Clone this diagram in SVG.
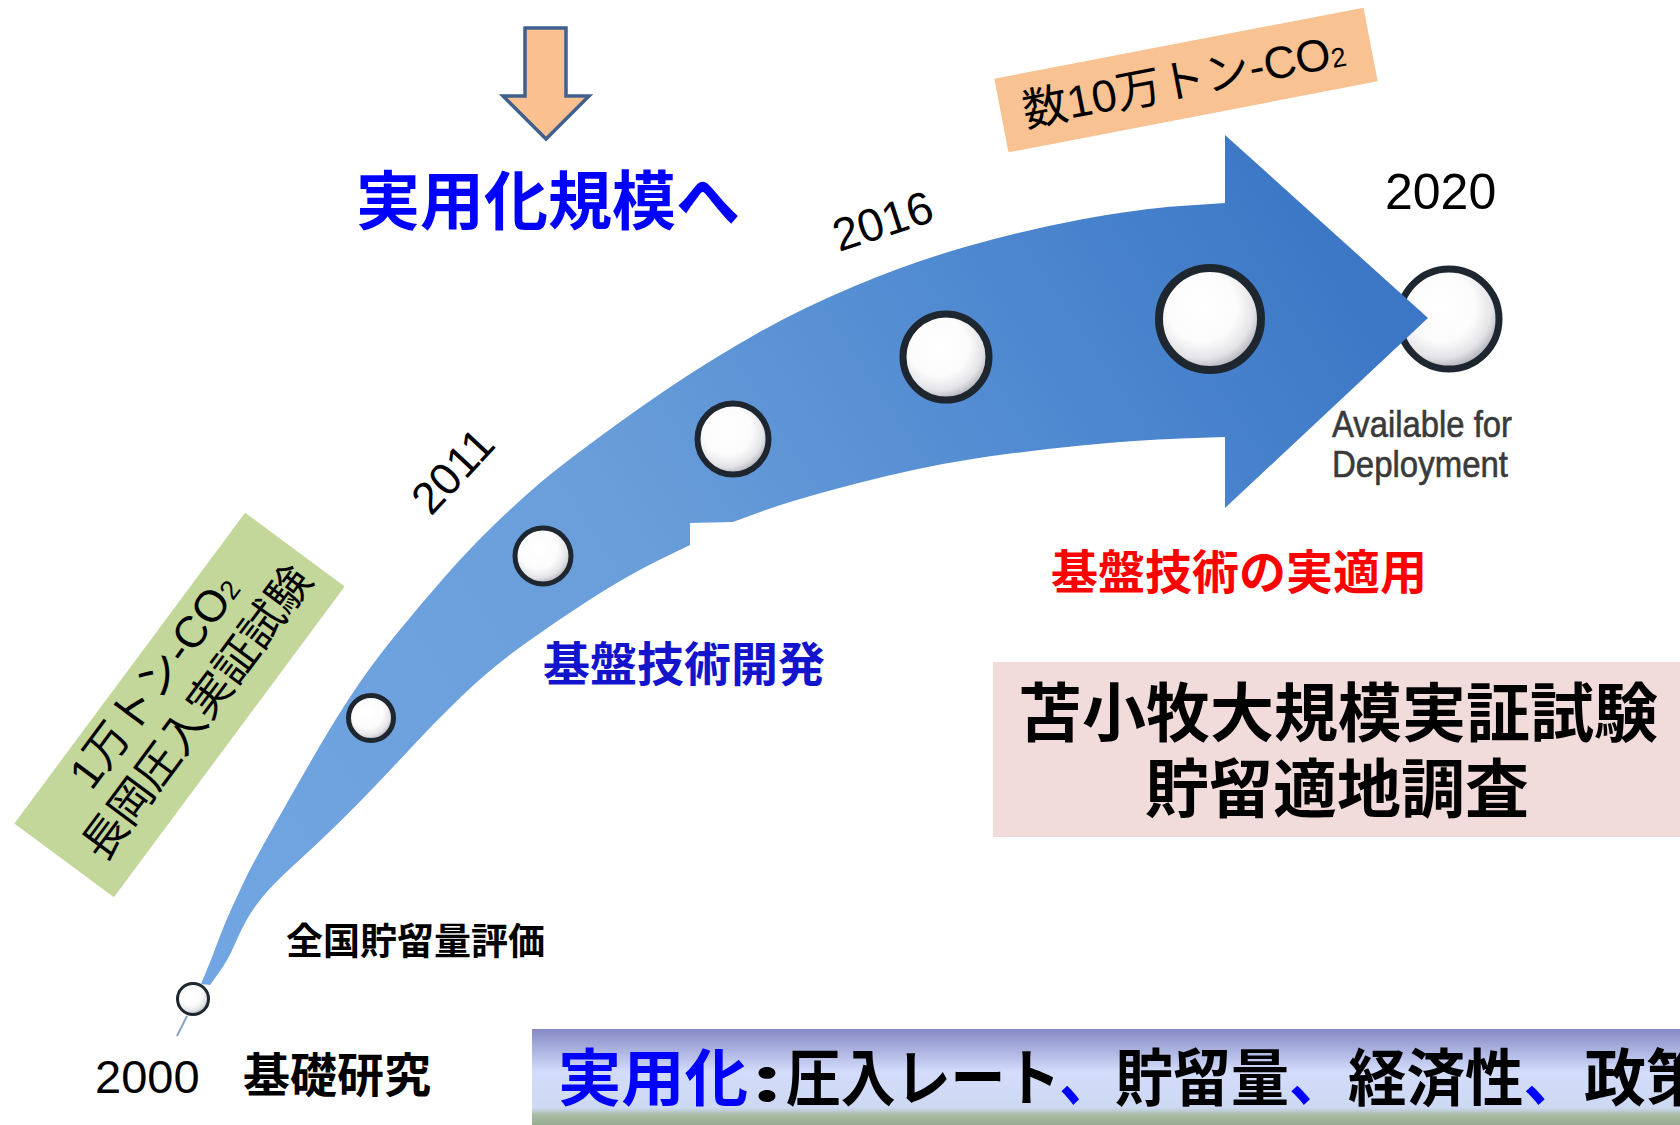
<svg xmlns="http://www.w3.org/2000/svg" width="1680" height="1125" viewBox="0 0 1680 1125">
  <style>
    .jp { font-family: 'Noto Sans CJK JP', sans-serif; font-weight: 700; }
    .jpr { font-family: 'Liberation Sans', 'Noto Sans CJK JP', sans-serif; font-weight: 400; }
    .yr { font-family: 'Liberation Sans', sans-serif; font-size: 45px; fill: #000; }
    .blue { fill: #0000FF; }
    .navy { fill: #1414CC; }
    .red { fill: #FF0000; }
    .blk { fill: #000; }
    .ball { fill: url(#ballShade); stroke: #1e2730; }
    .avail { font-family: 'Liberation Sans', sans-serif; font-size: 36px; fill: #3a3a3a; stroke: #3a3a3a; stroke-width: 0.6; }
    .bn { font-family: 'Noto Sans CJK JP', sans-serif; font-weight: 700; font-size: 62px; }
  </style>
  <defs>
    <linearGradient id="bandFill" gradientUnits="userSpaceOnUse" x1="200" y1="1000" x2="1350" y2="250">
      <stop offset="0" stop-color="#72A6E2"/>
      <stop offset="0.45" stop-color="#6A9EDA"/>
      <stop offset="0.75" stop-color="#4F89D0"/>
      <stop offset="1" stop-color="#3C77C6"/>
    </linearGradient>
    <radialGradient id="ballShade" cx="0.42" cy="0.38" r="0.62">
      <stop offset="0" stop-color="#ffffff"/>
      <stop offset="0.55" stop-color="#fcfcfc"/>
      <stop offset="0.82" stop-color="#e4e4e8"/>
      <stop offset="1" stop-color="#b0b0b8"/>
    </radialGradient>
    <linearGradient id="bannerFill" x1="0" y1="0" x2="0" y2="1">
      <stop offset="0" stop-color="#8689C5"/>
      <stop offset="0.45" stop-color="#D3DDFB"/>
      <stop offset="0.82" stop-color="#CDD8F2"/>
      <stop offset="0.9" stop-color="#A8BAA2"/>
      <stop offset="1" stop-color="#98AC94"/>
    </linearGradient>
  </defs>

  <rect width="1680" height="1125" fill="#ffffff"/>

  <!-- final milestone sits partly under the arrow head -->
  <g id="milestone-2020">
    <circle class="ball" cx="1449" cy="319" r="50" stroke="#333" stroke-width="7"/>
  </g>

  <g id="connectors">
    <!-- down arrow above the headline -->
    <path d="M525,28 H566 V96 H589 L546,139 L503,96 H525 Z" fill="#FAC090" stroke="#41618C" stroke-width="3.5" stroke-linejoin="miter"/>
    <!-- curved timeline arrow -->
    <path fill="url(#bandFill)" d="M201,984 L207,969.5 Q213,955 218.5,940 Q224,925 232,907.5 Q240,890 246.5,876.5 Q253,863 276.5,821.5 Q300,780 318,749 Q336,718 354,691 Q372,664 396,634.5 Q420,605 445,576.5 Q470,548 495,524 Q520,500 540,483 Q560,466 601.5,435.5 Q643,405 678.5,381.5 Q714,358 757,333.5 Q800,309 856,285.5 Q912,262 968.5,246 Q1025,230 1081,219.5 Q1137,209 1181,206 L1225,203 L1225,135 L1428,318 L1225,508 L1225,437 L1181,438.5 Q1137,440 1081,445.5 Q1025,451 972.5,459 Q920,467 856.5,483.5 Q793,500 763,511 L733,522 L690,523 L690,545 L657,561 Q625,577 591.5,598.5 Q558,620 524.5,644 Q491,668 464,694 Q437,720 416.5,742 Q396,764 376,785 Q356,806 336,825.5 Q316,845 294.5,864.5 Q273,884 262.5,897 Q252,910 246,921 Q240,932 234,946 Q228,960 219,972.5 L210,985 Z"/>
    <!-- tail stub below the first milestone -->
    <line x1="187" y1="1016" x2="177" y2="1036" stroke="#8aa4c0" stroke-width="2"/>
  </g>

  <g id="milestone-2000">
    <circle class="ball" cx="193" cy="999" r="15.5" stroke="#444" stroke-width="3"/>
  </g>
  <g id="milestone-a">
    <circle class="ball" cx="371" cy="718" r="22.5" stroke-width="5"/>
  </g>
  <g id="milestone-b">
    <circle class="ball" cx="543" cy="556" r="28" stroke-width="5"/>
  </g>
  <g id="milestone-c">
    <circle class="ball" cx="733" cy="439" r="35.5" stroke-width="6"/>
  </g>
  <g id="milestone-d">
    <circle class="ball" cx="946" cy="357" r="43" stroke-width="7"/>
  </g>
  <g id="milestone-e">
    <circle class="ball" cx="1210" cy="319" r="51" stroke-width="8"/>
  </g>

  <g id="headline">
    <text class="jp blue" x="356" y="224" font-size="64">実用化規模へ</text>
  </g>

  <g id="scale-large" transform="rotate(-10.9 1186 80)">
    <rect x="998" y="42.5" width="376" height="75" fill="#F9C293"/>
    <text class="jpr blk" x="1020" y="96" font-size="45">数10万トン-CO<tspan font-size="27">2</tspan></text>
  </g>

  <g id="scale-small" transform="translate(179.5 705) rotate(-53.4)">
    <rect x="-193.5" y="-62" width="387" height="124" fill="#C4D79B"/>
    <text class="jpr blk" x="4" y="-19" font-size="44" text-anchor="middle">1万トン-CO<tspan font-size="27">2</tspan></text>
    <text class="jpr blk" x="4" y="34" font-size="44" text-anchor="middle">長岡圧入実証試験</text>
  </g>

  <g id="year-2011">
    <text class="yr" transform="translate(431 517) rotate(-47)">2011</text>
  </g>
  <g id="year-2016">
    <text class="yr" transform="translate(839 252) rotate(-18)" style="font-size:46px">2016</text>
  </g>
  <g id="year-2020">
    <text class="yr" x="1385" y="209" style="font-size:50px">2020</text>
  </g>
  <g id="year-2000">
    <text class="yr" x="95" y="1093" style="font-size:47px">2000</text>
  </g>

  <g id="available">
    <text class="avail" x="1332" y="437" textLength="180" lengthAdjust="spacingAndGlyphs">Available for</text>
    <text class="avail" x="1332" y="477" textLength="176" lengthAdjust="spacingAndGlyphs">Deployment</text>
  </g>

  <g id="stage-basic">
    <text class="jp blk" x="243" y="1092" font-size="47">基礎研究</text>
  </g>
  <g id="stage-survey">
    <text class="jp blk" x="286" y="955" font-size="37">全国貯留量評価</text>
  </g>
  <g id="stage-dev">
    <text class="jp navy" x="543" y="681" font-size="47">基盤技術開発</text>
  </g>
  <g id="stage-apply">
    <text class="jp red" x="1051" y="589" font-size="47">基盤技術の実適用</text>
  </g>

  <g id="tomakomai">
    <rect x="993" y="662" width="687" height="175" fill="#F2DCDB"/>
    <text class="jp blk" x="1338" y="736" font-size="64" text-anchor="middle">苫小牧大規模実証試験</text>
    <text class="jp blk" x="1337" y="812" font-size="64" text-anchor="middle">貯留適地調査</text>
  </g>

  <g id="banner">
    <rect x="532" y="1029" width="1148" height="96" fill="url(#bannerFill)"/>
    <text class="bn blue" x="558" y="1101" textLength="190" lengthAdjust="spacingAndGlyphs">実用化</text>
    <text class="bn blk" x="752" y="1101" textLength="30" lengthAdjust="spacingAndGlyphs">:</text>
    <text class="bn blk" x="786" y="1101" textLength="328" lengthAdjust="spacingAndGlyphs">圧入レート<tspan class="blue">、</tspan></text>
    <text class="bn blk" x="1115" y="1101" textLength="232" lengthAdjust="spacingAndGlyphs">貯留量<tspan class="blue">、</tspan></text>
    <text class="bn blk" x="1348" y="1101" textLength="234" lengthAdjust="spacingAndGlyphs">経済性<tspan class="blue">、</tspan></text>
    <text class="bn blk" x="1584" y="1101">政策</text>
  </g>
</svg>
